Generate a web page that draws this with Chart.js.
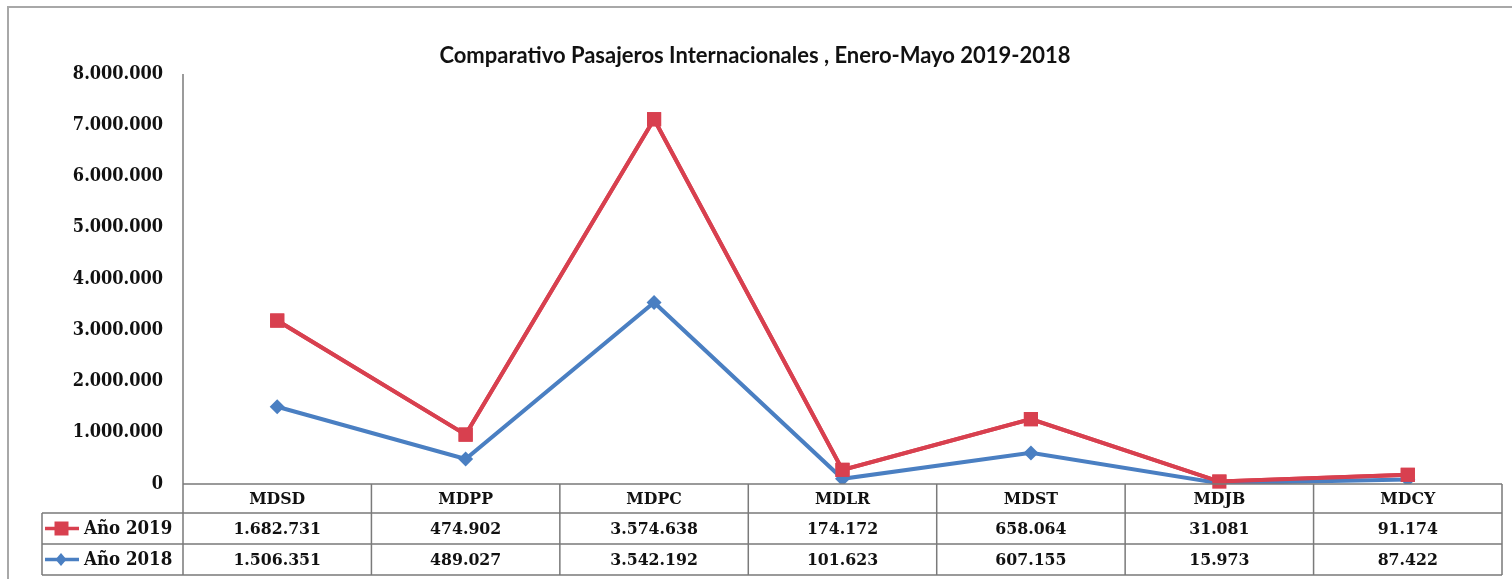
<!DOCTYPE html>
<html>
<head>
<meta charset="utf-8">
<script src="https://cdn.jsdelivr.net/npm/chart.js@4.4.1/dist/chart.umd.min.js"></script>
<style>
  html, body { margin: 0; padding: 0; background: #fff; }
  #wrap { width: 1512px; height: 579px; position: relative; }
</style>
</head>
<body>
<div id="wrap"><canvas id="c" width="1512" height="579"></canvas></div>
<script>
const chartTitle = 'Comparativo Pasajeros Internacionales , Enero-Mayo 2019-2018';
const categories = ['MDSD', 'MDPP', 'MDPC', 'MDLR', 'MDST', 'MDJB', 'MDCY'];
const seriesNames = ['Año 2019', 'Año 2018'];
const pax2019 = [1682731, 474902, 3574638, 174172, 658064, 31081, 91174];
const pax2018 = [1506351, 489027, 3542192, 101623, 607155, 15973, 87422];
const yMin = 0, yMax = 8000000, yStep = 1000000;

const RED = '#d8404f';
const BLUE = '#4a7fc2';
const GRID = '#7a7a7a';
const SERIF = '"DejaVu Serif Condensed", "DejaVu Serif", "Liberation Serif", serif';
const fmt = n => String(n).replace(/\B(?=(\d{3})+(?!\d))/g, '.');

const tablePlugin = {
  id: 'tablePlugin',
  afterDatasetsDraw(chart) {
    // redraw 2019 series on top
    const meta = chart.getDatasetMeta(1);
    if (meta && meta.controller) meta.controller.draw();
  },
  afterDraw(chart) {
    const ctx = chart.ctx;
    const x = chart.scales.x;
    const area = chart.chartArea;
    const n = categories.length;
    const colW = (area.right - area.left) / n;
    const top = area.bottom;
    const rowH = [29, 31, 31];
    const r1 = top + rowH[0], r2 = r1 + rowH[1], r3 = r2 + rowH[2];
    const leftEdge = 42;
    ctx.save();
    // outer frame
    ctx.strokeStyle = '#a8a8a8';
    ctx.lineWidth = 2;
    ctx.strokeRect(8, 7, 1520, 600);
    // y axis line
    ctx.strokeStyle = GRID;
    ctx.lineWidth = 1.5;
    ctx.beginPath();
    ctx.moveTo(area.left, area.top);
    ctx.lineTo(area.left, top);
    ctx.stroke();
    // table lines
    ctx.beginPath();
    ctx.moveTo(area.left, top); ctx.lineTo(area.right, top);
    ctx.moveTo(leftEdge, r1); ctx.lineTo(area.right, r1);
    ctx.moveTo(leftEdge, r2); ctx.lineTo(area.right, r2);
    ctx.moveTo(leftEdge, r3); ctx.lineTo(area.right, r3);
    ctx.moveTo(leftEdge, r1); ctx.lineTo(leftEdge, r3);
    for (let i = 0; i <= n; i++) {
      const cx = i === n ? area.right : x.getPixelForValue(i) - colW / 2;
      ctx.moveTo(cx, top); ctx.lineTo(cx, r3);
    }
    ctx.stroke();
    // texts
    ctx.fillStyle = '#111';
    ctx.font = 'bold 17.5px ' + SERIF;
    ctx.textAlign = 'center';
    ctx.textBaseline = 'middle';
    const rows = [pax2019, pax2018];
    categories.forEach((c, i) => {
      const cx = x.getPixelForValue(i);
      ctx.fillText(c, cx, (top + r1) / 2 + 1);
      ctx.fillText(fmt(rows[0][i]), cx, (r1 + r2) / 2 + 1);
      ctx.fillText(fmt(rows[1][i]), cx, (r2 + r3) / 2 + 1);
    });
    // legend keys
    const keys = [[RED, 'rect', (r1 + r2) / 2], [BLUE, 'diamond', (r2 + r3) / 2]];
    ctx.font = 'bold 18.5px ' + SERIF;
    keys.forEach((k, j) => {
      const [col, shape, cy] = k;
      ctx.strokeStyle = col; ctx.fillStyle = col; ctx.lineWidth = 3.5;
      ctx.beginPath(); ctx.moveTo(45, cy); ctx.lineTo(79, cy); ctx.stroke();
      ctx.beginPath();
      if (shape === 'rect') { ctx.rect(54.5, cy - 7, 14, 14); }
      else { ctx.moveTo(61, cy - 6.5); ctx.lineTo(66.5, cy); ctx.lineTo(61, cy + 6.5); ctx.lineTo(55.5, cy); ctx.closePath(); }
      ctx.fill();
      ctx.fillStyle = '#111';
      ctx.textAlign = 'left';
      ctx.fillText(seriesNames[j], 84, cy + 1);
    });
    ctx.restore();
  }
};

new Chart(document.getElementById('c'), {
  type: 'line',
  data: {
    labels: categories,
    datasets: [
      {
        label: seriesNames[1], data: pax2018, order: 0,
        borderColor: BLUE, backgroundColor: BLUE, borderWidth: 4,
        pointStyle: 'rectRot', pointRadius: 7.5, pointHoverRadius: 7.5,
        pointBorderWidth: 0, tension: 0, fill: false
      },
      {
        label: seriesNames[0], data: pax2019, order: 1,
        borderColor: RED, backgroundColor: RED, borderWidth: 4,
        pointStyle: 'rect', pointRadius: 10, pointHoverRadius: 10,
        pointBorderWidth: 0, tension: 0, fill: false
      }
    ]
  },
  options: {
    responsive: false,
    animation: false,
    events: [],
    layout: { padding: { left: 0, right: 2, top: 0, bottom: 95 } },
    plugins: {
      legend: { display: false },
      tooltip: { enabled: false },
      title: {
        display: true, text: chartTitle, color: '#111',
        font: { family: 'Lato, "Open Sans", sans-serif', size: 22, weight: 'bold', lineHeight: 1.2 },
        padding: { top: 43, bottom: 4.6 }
      }
    },
    scales: {
      x: {
        type: 'category', offset: true, display: false,
        grid: { display: false }
      },
      y: {
        stacked: true, min: yMin, max: yMax,
        grid: { display: false, drawTicks: false },
        border: { display: false },
        ticks: {
          stepSize: yStep, padding: 20, color: '#111',
          font: { family: SERIF, size: 18, weight: 'bold' },
          callback: v => fmt(v)
        },
        afterFit(s) { s.width = 183; }
      }
    }
  },
  plugins: [tablePlugin]
});
</script>
</body>
</html>
